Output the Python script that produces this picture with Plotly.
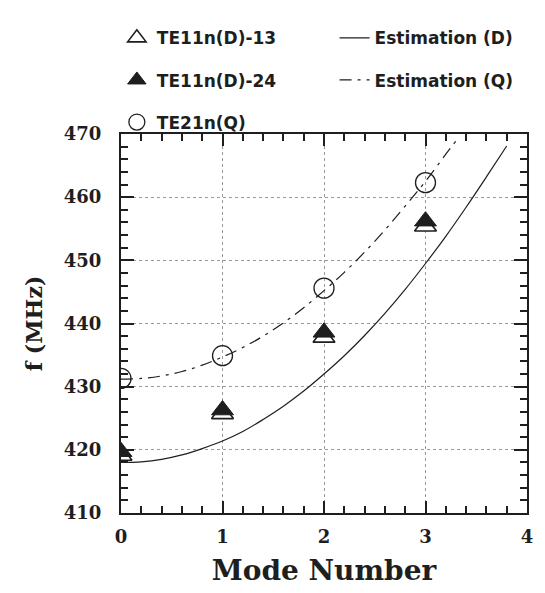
import plotly.graph_objects as go

# ---- data ----
modes = [0, 1, 2, 3]
te11_13 = [419.1, 425.7, 437.8, 455.4]
te11_24 = [419.7, 426.3, 438.6, 456.2]
te21_q = [431.3, 434.9, 445.6, 462.3]

est_d_x = [0, 0.2, 0.4, 0.6, 0.8, 1.0, 1.2, 1.4, 1.6, 1.8, 2.0, 2.2, 2.4, 2.6, 2.8, 3.0, 3.2, 3.4, 3.6, 3.8]
est_d_y = [418.0, 418.1, 418.5, 419.2, 420.2, 421.4, 422.9, 424.8, 426.9, 429.3, 432.0, 434.9, 438.1, 441.6, 445.4, 449.5, 453.8, 458.4, 463.2, 468.1]

est_q_x = [0, 0.2, 0.4, 0.6, 0.8, 1.0, 1.2, 1.4, 1.6, 1.8, 2.0, 2.2, 2.4, 2.6, 2.8, 3.0, 3.2, 3.3]
est_q_y = [431.2, 431.3, 431.7, 432.4, 433.4, 434.7, 436.2, 438.0, 440.1, 442.5, 445.2, 448.1, 451.3, 454.8, 458.6, 462.5, 466.8, 468.9]

x_ticks = [0, 1, 2, 3, 4]
y_ticks = [410, 420, 430, 440, 450, 460, 470]

INK = "#1e1e1e"
SANS = "DejaVu Sans"
SERIF = "DejaVu Serif"
CLEAR = "rgba(0,0,0,0)"

fig = go.Figure()

fig.add_trace(go.Scatter(
    x=est_d_x, y=est_d_y, mode="lines", name="Estimation (D)",
    line=dict(color=INK, width=1.2, shape="spline"),
    legend="legend2", legendgroup="d"))
fig.add_trace(go.Scatter(
    x=est_q_x, y=est_q_y, mode="lines", name="Estimation (Q)",
    line=dict(color=INK, width=1.2, shape="spline", dash="12px,6px,3px,6px"),
    legend="legend2", legendgroup="q"))

fig.add_trace(go.Scatter(
    x=modes, y=te11_13, mode="markers", name="TE11n(D)-13",
    marker=dict(symbol="triangle-up", size=19, color="white",
                line=dict(color=INK, width=1.6)),
    legend="legend", legendgroup="a"))
fig.add_trace(go.Scatter(
    x=modes, y=te11_24, mode="markers", name="TE11n(D)-24",
    marker=dict(symbol="triangle-up", size=19, color=INK,
                line=dict(color=INK, width=1)),
    legend="legend", legendgroup="b"))
fig.add_trace(go.Scatter(
    x=modes, y=te21_q, mode="markers", name="TE21n(Q)",
    marker=dict(symbol="circle-open", size=20, color=INK,
                line=dict(color=INK, width=1.3)),
    legend="legend", legendgroup="c"))

fig.update_xaxes(
    range=[x_ticks[0], x_ticks[-1]], tickvals=x_ticks, ticktext=[str(v) for v in x_ticks],
    showline=True, linecolor=INK, linewidth=2, mirror="ticks",
    ticks="inside", tickcolor=INK, tickwidth=1.8, ticklen=12,
    minor=dict(dtick=0.2, ticks="inside", ticklen=7,
               tickcolor=INK, tickwidth=1.5, showgrid=False),
    showgrid=True, gridcolor="#9a9a9a", griddash="dot", gridwidth=1, zeroline=False,
    tickfont=dict(family=SERIF, size=18, color=INK, weight="bold"),
    ticklabelstandoff=6,
    title=dict(text="Mode Number",
               font=dict(family=SERIF, size=28, color=INK, weight="bold")))
fig.update_yaxes(
    range=[y_ticks[0], y_ticks[-1]], tickvals=y_ticks, ticktext=[str(v) for v in y_ticks],
    showline=True, linecolor=INK, linewidth=2, mirror="ticks",
    ticks="inside", tickcolor=INK, tickwidth=1.8, ticklen=13,
    minor=dict(dtick=2, ticks="inside", ticklen=7,
               tickcolor=INK, tickwidth=1.5, showgrid=False),
    showgrid=True, gridcolor="#9a9a9a", griddash="dot", gridwidth=1, zeroline=False,
    tickfont=dict(family=SERIF, size=18, color=INK, weight="bold"),
    ticklabelstandoff=14,
    title=dict(text="f (MHz)",
               font=dict(family=SERIF, size=22, color=INK, weight="bold")))

legend_font = dict(family=SANS, size=17, color=INK, weight="bold")
fig.update_layout(
    width=537, height=585,
    margin=dict(l=113, r=13, t=118, b=72),
    paper_bgcolor="white", plot_bgcolor="white",
    showlegend=True,
    legend=dict(xref="paper", yref="paper", x=-0.0102, y=1.30,
                xanchor="left", yanchor="top", font=legend_font,
                bgcolor=CLEAR, tracegroupgap=17, itemsizing="trace"),
    legend2=dict(xref="paper", yref="paper", x=0.526, y=1.30,
                 xanchor="left", yanchor="top", font=legend_font,
                 bgcolor=CLEAR, tracegroupgap=17),
)

fig.write_html("out.html")
